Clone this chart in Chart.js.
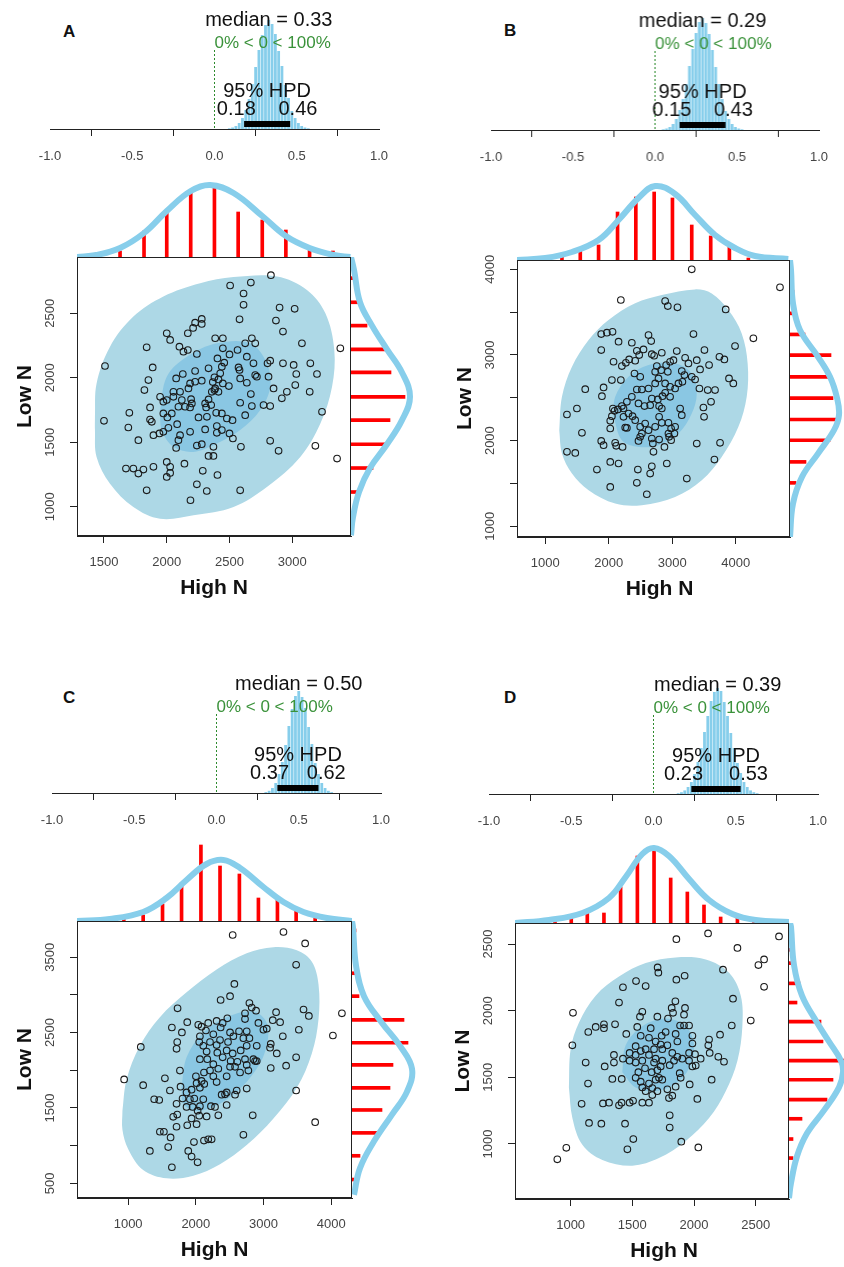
<!DOCTYPE html>
<html>
<head>
<meta charset="utf-8">
<script src="https://cdn.jsdelivr.net/npm/chart.js@4.4.0/dist/chart.umd.min.js"></script>
<style>
  body { margin: 0; width: 844px; height: 1267px; position: relative; overflow: hidden; background: #fff; }
  canvas { position: absolute; }
  .tag { position: absolute; font: bold 17px "Liberation Sans", Arial, sans-serif; color: #111; }
</style>
</head>
<body>
<div class="tag" style="left:63px;top:22px">A</div>
<div class="tag" style="left:504px;top:21px">B</div>
<div class="tag" style="left:63px;top:688px">C</div>
<div class="tag" style="left:504px;top:688px">D</div>
<script>
// ---- posterior of the correlation (blue histograms) ----
const postTicks = [-1, -0.5, 0, 0.5, 1];
const aPostX = [0.09,0.11,0.13,0.15,0.17,0.19,0.21,0.23,0.25,0.27,0.29,0.31,0.33,0.35,0.37,0.39,0.41,0.43,0.45,0.47,0.49,0.51,0.53,0.55,0.57];
const aPostH = [0.7,1.5,3,6,11,19,30,45,62,79,94,104,109,105,95,78,63,44,31,18,11,6,3,1.5,0.7];
const bPostX = [0.05,0.07,0.09,0.11,0.13,0.15,0.17,0.19,0.21,0.23,0.25,0.27,0.29,0.31,0.33,0.35,0.37,0.39,0.41,0.43,0.45,0.47,0.49,0.51,0.53];
const bPostH = [0.7,1.5,3,6,11,20,31,46,64,81,97,108,112,107,96,80,63,46,31,19,11,6,3,1.5,0.7];
const cPostX = [0.30,0.32,0.34,0.36,0.38,0.40,0.42,0.44,0.46,0.48,0.50,0.52,0.54,0.56,0.58,0.60,0.62,0.64,0.66,0.68,0.70];
const cPostH = [0.9,2.2,5,10,19,31,48,67,84,97,102,96,85,66,49,30,19,10,5,2.2,0.9];
const dPostX = [0.15,0.17,0.19,0.21,0.23,0.25,0.27,0.29,0.31,0.33,0.35,0.37,0.39,0.41,0.43,0.45,0.47,0.49,0.51,0.53,0.55,0.57,0.59,0.61,0.63];
const dPostH = [0.8,1.8,3.6,7,12,20,32,46,62,78,93,102,106,103,92,78,61,46,31,21,12,7,3.6,1.8,0.8];

// ---- panel A ----
const aHighN = [2830,2670,2505,2612,2612,2899,3019,2580,2279,2226,2279,2210,2168,2000,2027,2870,2926,2386,2447,2678,2705,2625,3077,2101,1840,2133,2168,2240,2447,2564,2500,2404,2458,2439,2333,2426,2380,2412,2367,2386,2279,2226,2186,2173,2106,2053,2120,2194,2200,2053,2000,1947,1973,2093,2146,2186,2040,1973,2005,2083,2013,1942,1973,1894,1881,1867,2106,2093,2075,2186,2253,2306,2320,2399,2394,2439,2479,2524,2306,2314,2333,2354,2380,2412,2447,2359,2495,2585,2572,2638,2691,2705,2718,2638,2580,2585,2670,2625,2678,2771,2824,2811,2824,2803,2851,2917,2957,2926,3011,3032,3024,3144,3197,3139,3237,3383,3357,3184,2824,2891,2591,2585,2527,2500,2439,2399,2372,2372,2333,2279,2240,2287,2319,2404,2240,2189,2141,2027,2027,2000,2000,1894,1814,1774,1734,1675,1840,1774,1694,1702,1500,1508,1854,1888,1822,1867,2226,2128,2075];
const aLowN = [2795,2738,2715,2653,2565,2544,2534,2453,2456,2427,2417,2386,2345,2345,2293,2443,2358,2306,2306,2306,2267,2267,2267,2241,2236,2202,2215,2184,2228,2215,2181,2150,2117,2086,2073,2034,2003,1987,1966,1917,1977,1969,1956,1917,1891,1891,1827,1834,1801,1852,1827,1852,1814,1775,1775,1770,1723,1723,1692,1640,1612,1568,1581,1555,1658,1770,1555,1516,1456,1581,1692,1599,1697,1625,1728,1723,1684,1671,1801,1770,1832,1788,1904,1891,1956,1891,1935,1995,2080,2163,2112,2021,2008,1961,2060,1806,1873,1710,1780,1788,1780,2008,2132,2112,1917,1840,1891,2112,2099,2029,1943,2112,2029,1891,1736,2228,1373,1472,1511,1433,1464,1127,1529,1568,1594,1573,1464,1394,1394,1485,1474,1278,1122,1246,1174,1050,1334,1309,1262,1231,1347,1309,1288,1257,1296,1296,1127,1516,1614,1728,1666,2091,1982,2080,1904,1676,2052,2029,1995];
const aOuterX = [1428,1441,1548,1734,1973,2266,2532,2878,3117,3264,3335,3317,3224,3064,2798,2532,2213,1947,1734,1548,1441,1428];
const aOuterY = [1697,1956,2241,2474,2630,2733,2780,2785,2681,2500,2215,1930,1645,1386,1153,998,933,907,998,1179,1386,1594];
const aInnerX = [1947,2000,2160,2399,2665,2798,2825,2745,2585,2399,2213,2053,1960];
const aInnerY = [1749,2008,2163,2267,2267,2112,1930,1749,1594,1490,1425,1464,1594];
const aTopBinX = [1441,1628,1819,2000,2191,2380,2569,2761,2949,3138,3324];
const aTopBinH = [4,6,26,45,65,71,45,37,27,10,6];
const aTopCurveX = [1282,1441,1628,1819,2000,2191,2346,2532,2761,2949,3138,3330,3463];
const aTopCurveH = [0,2,9,24,46,66,72,64,41,21,9,2,0];
const aSideBinY = [2772,2585,2404,2220,2041,1852,1671,1484,1300,1114];
const aSideBinL = [5,7,16,34,40,54,39,34,22,8];
const aSideCurveY = [2936,2837,2585,2404,2220,2041,1852,1671,1484,1300,1114,920,778];
const aSideCurveL = [0,3,9,21,36,51,59,51,36,19,8,2,0];
const aXTicks = [1500,2000,2500,3000];
const aYTicks = [1000,1500,2000,2500];

// ---- panel B ----
const bHighN = [3307,4697,2190,2888,2930,3082,3842,4278,3334,3989,2626,2059,1970,1881,2154,2363,2668,1881,2442,2547,2678,2479,2715,2835,3071,3507,2075,2269,2321,2416,2206,2757,2904,2966,3019,3203,3255,3386,3438,3580,3743,3821,3894,3962,3674,3611,3491,3501,3098,3045,2966,2888,2783,2731,2626,2521,2442,2495,2405,2731,2825,2930,3150,3192,3360,3307,3160,2678,2773,2846,2888,2966,3124,3150,2793,2652,2563,2468,2363,2285,2206,2143,2091,2049,2023,2232,2311,2374,2259,2416,2495,2521,2495,2468,2678,2694,2704,2793,2877,2951,2982,3045,3034,2940,2835,2731,2626,2573,2793,2982,2940,2914,2678,2652,2458,2442,2599,2154,2023,2023,1813,1881,2101,2217,2023,1577,1498,1341,1341,1472,1629,1918,1892,2049,2190,2285,2117,1918,3229,3386,3664,3753,3559,3428,2835,2065,2232];
const bLowN = [4000,3790,3642,3630,3571,3556,3532,3194,3244,3104,3232,3271,3260,3244,3155,3143,3162,3057,3049,3065,3010,2999,2991,3026,3046,3057,2921,2909,2948,2933,2870,2870,2882,2921,2940,2968,2901,2940,2831,2882,2979,2948,2726,2668,2590,2453,2387,2278,2668,2609,2629,2668,2726,2668,2609,2597,2597,2745,2784,2804,2823,2804,2812,2765,2714,2745,2687,2492,2481,2519,2559,2512,2375,2297,2403,2414,2403,2434,2512,2453,2403,2364,2348,2286,2231,2375,2317,2286,2153,2239,2161,2083,2044,1997,2025,1966,1869,2013,1927,2044,2142,2161,2083,2208,2208,2161,2122,2200,2278,2005,2083,1733,1701,1616,1662,1507,1374,1733,1752,1460,1662,1997,1974,1927,2142,2091,2375,2305,1869,1857,2601,2621,2519,2707,2707,2149,1939,1947,1557,1966,1779,1974,2590,2609,2375,2375,2278];
const bOuterX = [1220,1262,1420,1682,1996,2416,2835,3360,3622,3884,4094,4188,4173,4042,3779,3465,3045,2521,2101,1682,1420,1262];
const bOuterY = [2122,2512,2862,3174,3408,3603,3700,3766,3719,3525,3252,2901,2512,2161,1810,1538,1343,1246,1265,1421,1616,1849];
const bInnerX = [2075,2101,2311,2626,3045,3307,3386,3307,3098,2783,2468,2206];
const bInnerY = [2278,2512,2746,2882,2901,2784,2551,2317,2083,1947,1927,2005];
const bTopBinX = [1262,1551,1839,2138,2426,2715,3003,3307,3606,3900,4199,4750];
const bTopBinH = [3,11,15,48,63,68,62,35,24,13,2,2];
const bTopCurveX = [554,1000,1420,1839,2154,2468,2731,3045,3360,3674,3989,4304,4828];
const bTopCurveH = [0,2,8,20,40,62,74,66,45,25,12,4,1];
const bSideBinY = [4000,3739,3486,3240,2999,2745,2496,2247,2005,1752,1507];
const bSideBinL = [1,4,5,15,41,38,43,50,40,16,6];
const bSideCurveY = [4109,3992,3603,3291,2979,2746,2500,2300,2122,1849,1577,1265,875];
const bSideCurveL = [0,1,3,10,28,40,47,49,44,28,12,3,0];
const bXTicks = [1000,2000,3000,4000];
const bYTicks = [1000,1500,2000,2500,3000,3500,4000];
const bYLabels = [1000,2000,3000,4000];

// ---- panel C ----
const cHighN = [2544,3294,3614,3481,2569,2505,2366,4157,3590,3669,4024,3521,1730,1873,1646,1794,1725,1715,1187,941,1222,1385,1459,1543,1765,1617,1774,1715,1725,1666,1715,1469,1528,1627,1592,1321,1646,1888,1937,2026,1972,2120,2183,2233,2011,1873,1937,2050,2159,2026,1952,2060,1977,2110,2223,2283,2381,2455,2579,2603,2751,2840,2702,2332,2455,2060,2011,2085,2124,1937,1863,1912,2001,2120,2209,2332,2060,2169,2258,2317,2396,2455,2514,2544,2662,2751,2726,2751,2776,2850,2899,2653,2579,2455,2258,2159,2110,2050,2060,2149,2085,2036,2183,2307,2396,2465,2366,2505,2554,2357,2258,2209,2307,2475,2638,2702,2751,2791,2825,2889,2791,2726,2726,2924,3047,2998,3185,3136,3244,3284,3106,3195,3106,3333,3481,3481,3762,2875,2613,2505,2307,2431,1863,1804,3096,2899];
const cLowN = [3794,3834,3682,3399,3145,2983,2932,2755,2806,2720,2461,2537,2821,2638,2567,2502,2375,2284,2309,1878,1802,1615,1605,1893,1995,1731,1782,1554,1412,1382,1250,1184,1184,1108,981,930,713,930,855,778,1047,1067,1083,1083,1285,1270,1361,1397,1387,1463,1513,1523,1625,1615,1523,1513,1676,1706,1676,1731,1757,1402,1143,1402,1539,1767,1828,1858,1818,1742,1706,1615,1919,1970,1995,2020,2147,2147,2081,2233,2172,2263,2122,2223,2263,2324,2147,2071,1995,2147,2122,1970,2045,1919,1919,2248,2324,2375,2451,2527,2578,2603,2628,2654,2628,2689,2567,2502,2451,2400,2476,2375,2334,2375,2517,2425,2517,2425,2831,2790,2892,2755,2679,2628,2552,2537,2770,2664,2638,2451,2349,2223,2030,2061,2172,1731,1311,2122,2112,2045,1843,1681,1513,1625,2299,2324];
const cOuterX = [916,975,1173,1469,1863,2307,2751,3146,3491,3713,3812,3812,3713,3491,3146,2751,2357,1962,1567,1222,1000,916];
const cOuterY = [1463,1868,2324,2704,3034,3338,3551,3632,3591,3439,3135,2679,2223,1767,1361,1007,753,601,566,677,956,1209];
const cInnerX = [1789,1863,2110,2455,2850,3047,3047,2899,2603,2258,1962,1814];
const cInnerY = [1767,2172,2502,2704,2780,2628,2324,2020,1716,1513,1463,1564];
const cTopBinX = [936,1222,1508,1789,2075,2357,2643,2924,3205,3481,3762,4044];
const cTopBinH = [2,6,17,38,76,55,47,23,21,11,3,3];
const cTopCurveX = [245,729,1222,1567,1863,2159,2406,2653,2998,3294,3590,3935,4305];
const cTopCurveH = [0,2,9,23,41,57,61,53,34,19,9,3,0];
const cSideBinY = [3855,3591,3287,2983,2669,2365,2071,1767,1473,1169,865,550];
const cSideBinL = [4,2,3,7,52,56,41,38,30,27,8,2];
const cSideCurveY = [3980,3895,3389,2983,2628,2324,2020,1716,1412,1057,702,348];
const cSideCurveL = [0,1,4,12,30,48,60,55,40,22,8,2];
const cXTicks = [1000,2000,3000,4000];
const cYTicks = [500,1000,1500,2000,2500,3000,3500];
const cYLabels = [500,1500,2500,3500];

// ---- panel D ----
const dHighN = [2114,1857,2689,2352,2568,2522,2568,2235,1705,1711,1924,1857,1530,1608,1424,2316,2460,1849,1392,1581,1819,1927,1562,1703,1789,1830,1019,1270,1203,1270,1143,1360,1451,1540,1568,1649,1635,1689,1738,1770,1851,1887,1919,1960,1987,1865,1784,1730,1676,1608,1568,1527,1478,1424,1478,1527,1581,1689,1743,1824,1865,1803,1730,1703,1657,1603,1549,1527,1568,1581,1608,1635,1689,1743,1784,1797,1884,1960,1987,2008,2014,1960,1965,2027,1892,2127,2122,2116,2211,2197,2143,2306,2054,1987,1905,1824,1803,1803,1897,2035,1508,1460,1441,1478,1506,1392,1413,1262,1311,1089,1149,1249,1141,1122,1276,1014,965,892,1351,1351,1414,1338,1662,1703,1581,1635,1716,1743,1635,1676,1919,2243,1838,1527,1851,1662];
const dLowN = [2580,2537,2557,2471,2385,2342,2179,2308,2325,2285,2262,2233,2222,2185,2176,2090,1926,2070,2061,1992,2021,2021,1955,1955,1941,1984,1984,1898,1878,1869,1840,1898,1826,1878,1812,1869,1797,1769,1812,1840,1826,1889,1889,1889,1812,1769,1740,1746,1711,1711,1697,1668,1683,1640,1625,1611,1625,1640,1625,1683,1654,1591,1582,1554,1539,1568,1539,1496,1467,1424,1396,1453,1482,1482,1410,1344,1531,1625,1582,1674,1588,1683,1447,1338,1496,1683,1783,1740,1820,1654,1482,1889,1640,1754,1640,1362,1215,1123,1017,974,1037,960,1152,1310,1324,1290,1310,1304,1310,1301,1158,1152,1453,1611,1582,1740,971,885,1668,1611,1488,1488,1367,1396,1310,1310,1496,1711,1668,1611,1970,1617,1625,1734,1430,1419];
const dOuterX = [986,1000,1068,1203,1392,1608,1851,2095,2284,2379,2392,2352,2257,2122,1933,1716,1500,1257,1095,1014];
const dOuterY = [1424,1711,1912,2113,2256,2357,2400,2385,2285,2113,1883,1625,1396,1195,1023,894,837,880,994,1195];
const dInnerX = [1419,1446,1581,1770,1933,2000,1960,1851,1689,1527];
const dInnerY = [1539,1740,1883,1941,1883,1740,1568,1453,1396,1424];
const dTopBinX = [873,1005,1135,1270,1405,1541,1676,1811,1946,2081,2216,2352,2487,2622,2730];
const dTopBinH = [2,6,11,10,36,67,75,45,31,18,6,5,3,2,2];
const dTopCurveX = [549,824,1095,1311,1446,1581,1676,1797,1960,2122,2311,2500,2770];
const dTopCurveH = [0,3,10,25,46,69,75,67,44,23,9,3,1];
const dSideBinY = [2577,2457,2357,2205,2061,1918,1769,1625,1482,1333,1189,1037,894];
const dSideBinL = [3,4,5,11,8,32,34,55,44,38,13,4,4];
const dSideCurveY = [2658,2629,2342,2113,1912,1769,1625,1539,1425,1252,1080,908,707,593];
const dSideCurveL = [1,2,5,13,28,40,52,54,50,35,18,8,2,0];
const dXTicks = [1000,1500,2000,2500];
const dYTicks = [1000,1500,2000,2500];

// ---------------------------------------------------------------
const FONT = '"Liberation Sans", Arial, sans-serif';
const INK = '#222';
const SKY = '#87ceeb';
Chart.defaults.font.family = FONT;

const pts = (xs, ys) => xs.map((v, i) => ({ x: v, y: ys[i] }));
const closed = arr => arr.concat([arr[0]]);
const fixedTicks = vals => scale => { scale.ticks = vals.map(v => ({ value: v })); };

function makeCanvas(left, top, w, h) {
  const c = document.createElement('canvas');
  c.width = w; c.height = h;
  c.style.left = left + 'px'; c.style.top = top + 'px';
  c.style.width = w + 'px'; c.style.height = h + 'px';
  document.body.appendChild(c);
  return c.getContext('2d');
}

const base = { responsive: false, animation: false, events: [] };
const quiet = { legend: { display: false }, tooltip: { enabled: false } };

// text, HPD bar and zero line of the posterior plot
const postNotes = {
  id: 'postNotes',
  afterDatasetsDraw(chart, args, p) {
    const { ctx, scales: { x, y } } = chart;
    const x0 = x.getPixelForValue(0);
    ctx.save();
    ctx.strokeStyle = '#2e8b2e'; ctx.lineWidth = 1; ctx.setLineDash([2, 2]);
    ctx.beginPath(); ctx.moveTo(x0, y.getPixelForValue(79)); ctx.lineTo(x0, y.getPixelForValue(0)); ctx.stroke();
    ctx.setLineDash([]);
    ctx.strokeStyle = '#000'; ctx.lineWidth = 6;
    ctx.beginPath();
    ctx.moveTo(x.getPixelForValue(p.hpd[0]), y.getPixelForValue(5));
    ctx.lineTo(x.getPixelForValue(p.hpd[1]), y.getPixelForValue(5));
    ctx.stroke();

    ctx.textBaseline = 'middle';
    ctx.fillStyle = '#111'; ctx.font = '20px ' + FONT; ctx.textAlign = 'center';
    ctx.fillText('median = ' + p.median.toFixed(2), x.getPixelForValue(p.median), y.getPixelForValue(109));
    ctx.fillText('95% HPD', x.getPixelForValue((p.hpd[0] + p.hpd[1]) / 2), y.getPixelForValue(38));
    const lo = p.hpd[0].toFixed(2), hi = p.hpd[1].toFixed(2);
    ctx.fillText(lo, x.getPixelForValue(p.hpd[0]) - 0.2 * ctx.measureText(lo).width, y.getPixelForValue(20));
    ctx.fillText(hi, x.getPixelForValue(p.hpd[1]) + 0.2 * ctx.measureText(hi).width, y.getPixelForValue(20));
    ctx.fillStyle = '#3a923a'; ctx.font = '17px ' + FONT; ctx.textAlign = 'left';
    ctx.fillText('0% < 0 < 100%', x0, y.getPixelForValue(86));

    ctx.fillStyle = '#444'; ctx.font = '13px ' + FONT; ctx.textAlign = 'center';
    postTicks.forEach(v => ctx.fillText(v.toFixed(1), x.getPixelForValue(v), y.getPixelForValue(0) + 27));
    ctx.restore();
  }
};

// box, rotated tick labels and axis titles of the scatter plot
const frameLabels = {
  id: 'frameLabels',
  afterDraw(chart, args, p) {
    const { ctx, chartArea: a, scales: { x, y } } = chart;
    ctx.save();
    ctx.strokeStyle = INK; ctx.lineWidth = 1;
    ctx.strokeRect(a.left + 0.5, a.top + 0.5, a.right - a.left - 1, a.bottom - a.top - 1);
    ctx.fillStyle = '#444'; ctx.font = '13px ' + FONT;
    ctx.textAlign = 'center'; ctx.textBaseline = 'middle';
    p.xLabels.forEach(v => ctx.fillText(String(v), x.getPixelForValue(v), a.bottom + 26));
    p.yLabels.forEach(v => {
      ctx.save();
      ctx.translate(a.left - 27, y.getPixelForValue(v));
      ctx.rotate(-Math.PI / 2);
      ctx.fillText(String(v), 0, 0);
      ctx.restore();
    });
    ctx.fillStyle = '#111'; ctx.font = 'bold 21px ' + FONT;
    ctx.fillText('High N', (a.left + a.right) / 2 + p.titleShift, a.bottom + 52);
    ctx.translate(a.left - 52, (a.top + a.bottom) / 2);
    ctx.rotate(-Math.PI / 2);
    ctx.fillText('Low N', 0, 0);
    ctx.restore();
  }
};

function posterior(p) {
  const w = p.x1 - p.x0;
  new Chart(makeCanvas(p.x0 - 20, p.axisY - 130, w + 40, 170), {
    type: 'bar',
    data: { datasets: [{ data: pts(p.bins, p.heights), backgroundColor: SKY, barPercentage: 0.85, categoryPercentage: 1 }] },
    options: {
      ...base,
      layout: { padding: { left: 20, right: 20, top: 0, bottom: 0 } },
      plugins: { ...quiet, postNotes: p },
      scales: {
        x: { type: 'linear', min: -1, max: 1, offset: false, afterBuildTicks: fixedTicks(postTicks),
             afterFit: s => { s.height = 40; }, ticks: { display: false },
             grid: { drawOnChartArea: false, tickLength: 7, color: INK }, border: { color: INK } },
        y: { display: false, min: 0, max: 130 }
      }
    },
    plugins: [postNotes]
  });
}

function scatter(p) {
  const w = p.R - p.L, h = p.B - p.T;
  const axisOpts = { ticks: { display: false }, grid: { drawOnChartArea: false, tickLength: 7, color: INK }, border: { color: INK } };
  new Chart(makeCanvas(p.L - 70, p.T - 10, w + 80, h + 80), {
    type: 'scatter',
    data: { datasets: [
      { type: 'line', data: closed(pts(p.outerX, p.outerY)), fill: 'shape', backgroundColor: '#add8e6',
        borderColor: 'rgba(0,0,0,0)', borderWidth: 0, pointRadius: 0, tension: 0.35, order: 3 },
      { type: 'line', data: closed(pts(p.innerX, p.innerY)), fill: 'shape', backgroundColor: '#8ac7e3',
        borderColor: 'rgba(0,0,0,0)', borderWidth: 0, pointRadius: 0, tension: 0.35, order: 2 },
      { data: pts(p.hx, p.ly), pointRadius: 3.3, pointBorderWidth: 1.1, pointBorderColor: '#1a1a1a',
        pointBackgroundColor: 'rgba(0,0,0,0)', order: 1 }
    ] },
    options: {
      ...base,
      layout: { padding: { top: 10, right: 10, left: 0, bottom: 0 } },
      plugins: { ...quiet, frameLabels: p },
      scales: {
        x: { ...axisOpts, min: p.xMin, max: p.xMax, afterBuildTicks: fixedTicks(p.xTicks), afterFit: s => { s.height = 70; } },
        y: { ...axisOpts, min: p.yMin, max: p.yMax, afterBuildTicks: fixedTicks(p.yTicks), afterFit: s => { s.width = 70; } }
      }
    },
    plugins: [frameLabels]
  });
}

function topMargin(p) {
  new Chart(makeCanvas(p.L - 10, p.T - 90, p.R - p.L + 20, 90), {
    type: 'bar',
    data: { datasets: [
      { type: 'line', data: pts(p.topCurveX, p.topCurveH), borderColor: SKY, borderWidth: 6,
        pointRadius: 0, tension: 0.4, order: 0 },
      { data: pts(p.topBinX, p.topBinH), backgroundColor: '#ff0000', barThickness: 3, order: 1 }
    ] },
    options: {
      ...base,
      layout: { padding: { left: 10, right: 10, top: 10, bottom: 0 } },
      plugins: quiet,
      scales: {
        x: { type: 'linear', display: false, offset: false, min: p.xMin, max: p.xMax },
        y: { display: false, min: 0, max: 80 }
      }
    }
  });
}

function sideMargin(p) {
  new Chart(makeCanvas(p.R, p.T - 10, 80, p.B - p.T + 20), {
    type: 'bar',
    data: { datasets: [
      { type: 'line', data: pts(p.sideCurveL, p.sideCurveY), borderColor: SKY, borderWidth: 6,
        pointRadius: 0, tension: 0.4, order: 0 },
      { data: pts(p.sideBinL, p.sideBinY), backgroundColor: '#ff0000', barThickness: 3, order: 1 }
    ] },
    options: {
      ...base,
      indexAxis: 'y',
      layout: { padding: { left: 0, right: 10, top: 10, bottom: 10 } },
      plugins: quiet,
      scales: {
        x: { display: false, min: 0, max: 70 },
        y: { type: 'linear', display: false, offset: false, min: p.yMin, max: p.yMax }
      }
    }
  });
}

const panels = [
  { post: { x0: 50, x1: 379.3, axisY: 129, bins: aPostX, heights: aPostH, median: 0.33, hpd: [0.18, 0.46] },
    L: 77, R: 351, T: 257, B: 536, xMin: 1285, xMax: 3468, yMin: 773, yMax: 2936,
    hx: aHighN, ly: aLowN, outerX: aOuterX, outerY: aOuterY, innerX: aInnerX, innerY: aInnerY,
    topBinX: aTopBinX, topBinH: aTopBinH, topCurveX: aTopCurveX, topCurveH: aTopCurveH,
    sideBinY: aSideBinY, sideBinL: aSideBinL, sideCurveY: aSideCurveY, sideCurveL: aSideCurveL,
    xTicks: aXTicks, yTicks: aYTicks, xLabels: aXTicks, yLabels: aYTicks, titleShift: 0 },
  { post: { x0: 491.3, x1: 819.3, axisY: 130, bins: bPostX, heights: bPostH, median: 0.29, hpd: [0.15, 0.43] },
    L: 517, R: 790, T: 260, B: 537, xMin: 554, xMax: 4855, yMin: 875, yMax: 4109,
    hx: bHighN, ly: bLowN, outerX: bOuterX, outerY: bOuterY, innerX: bInnerX, innerY: bInnerY,
    topBinX: bTopBinX, topBinH: bTopBinH, topCurveX: bTopCurveX, topCurveH: bTopCurveH,
    sideBinY: bSideBinY, sideBinL: bSideBinL, sideCurveY: bSideCurveY, sideCurveL: bSideCurveL,
    xTicks: bXTicks, yTicks: bYTicks, xLabels: bXTicks, yLabels: bYLabels, titleShift: 6 },
  { post: { x0: 51.7, x1: 381, axisY: 793, bins: cPostX, heights: cPostH, median: 0.50, hpd: [0.37, 0.62] },
    L: 77, R: 352, T: 921, B: 1198, xMin: 245, xMax: 4306, yMin: 305, yMax: 3980,
    hx: cHighN, ly: cLowN, outerX: cOuterX, outerY: cOuterY, innerX: cInnerX, innerY: cInnerY,
    topBinX: cTopBinX, topBinH: cTopBinH, topCurveX: cTopCurveX, topCurveH: cTopCurveH,
    sideBinY: cSideBinY, sideBinL: cSideBinL, sideCurveY: cSideCurveY, sideCurveL: cSideCurveL,
    xTicks: cXTicks, yTicks: cYTicks, xLabels: cXTicks, yLabels: cYLabels, titleShift: 0 },
  { post: { x0: 488.7, x1: 818, axisY: 794, bins: dPostX, heights: dPostH, median: 0.39, hpd: [0.23, 0.53] },
    L: 515, R: 789, T: 923, B: 1199, xMin: 549, xMax: 2770, yMin: 587, yMax: 2658,
    hx: dHighN, ly: dLowN, outerX: dOuterX, outerY: dOuterY, innerX: dInnerX, innerY: dInnerY,
    topBinX: dTopBinX, topBinH: dTopBinH, topCurveX: dTopCurveX, topCurveH: dTopCurveH,
    sideBinY: dSideBinY, sideBinL: dSideBinL, sideCurveY: dSideCurveY, sideCurveL: dSideCurveL,
    xTicks: dXTicks, yTicks: dYTicks, xLabels: dXTicks, yLabels: dYTicks, titleShift: 12 }
];

panels.forEach(p => {
  posterior(p.post);
  topMargin(p);
  sideMargin(p);
  scatter(p);
});
</script>
</body>
</html>
